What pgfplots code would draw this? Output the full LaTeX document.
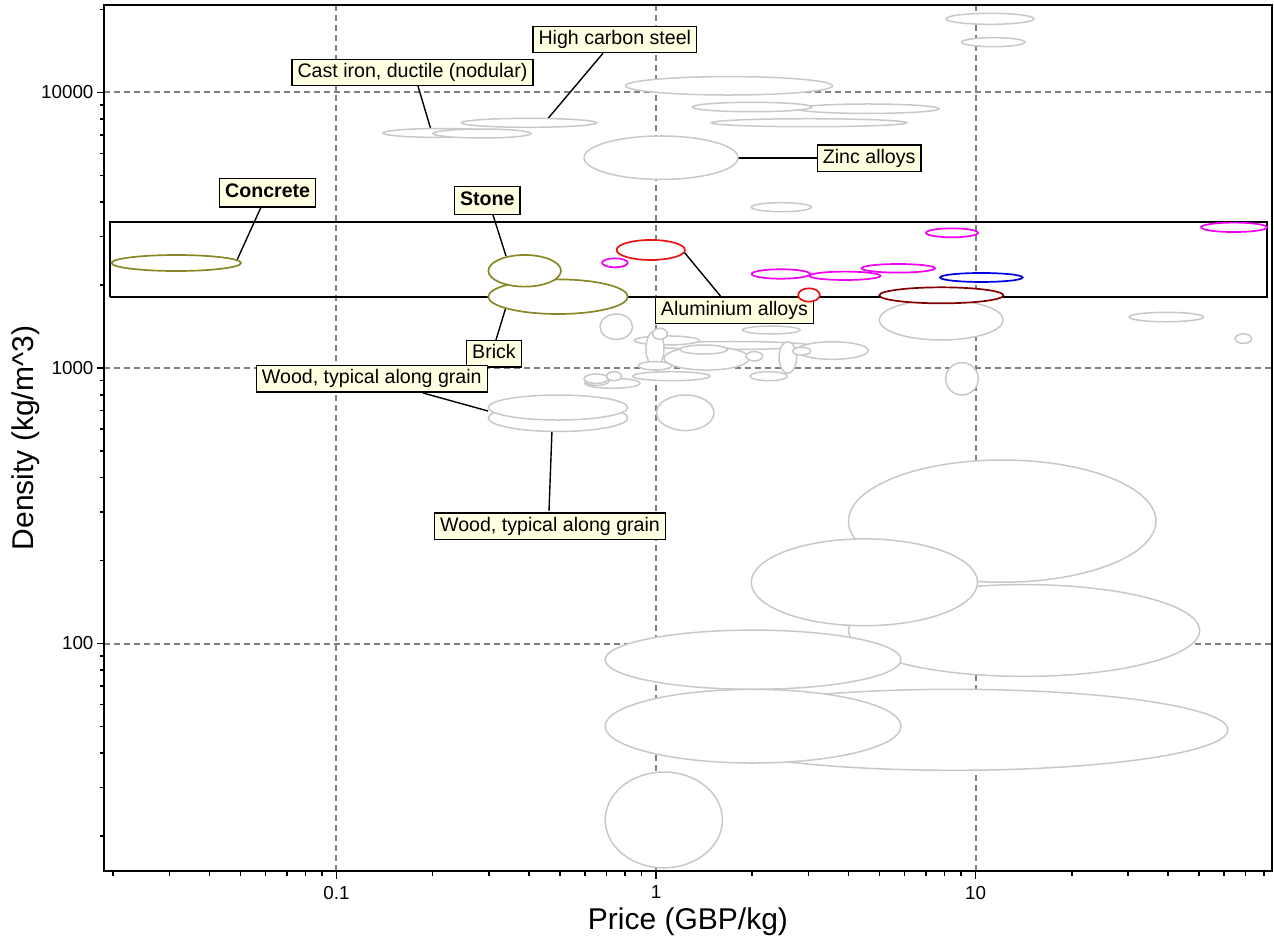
\documentclass[border=0pt]{standalone}
\usepackage{fontspec}
\setmainfont{Liberation Sans}
\usepackage{pgfplots}
\pgfplotsset{compat=1.18}

\definecolor{ellgray}{RGB}{200,200,200}
\definecolor{olivec}{RGB}{136,136,40}
\definecolor{magc}{RGB}{240,0,240}
\definecolor{redc}{RGB}{230,20,20}
\definecolor{bluec}{RGB}{0,0,220}
\definecolor{darkredc}{RGB}{130,0,0}
\definecolor{gridc}{RGB}{128,128,128}
\definecolor{tipfill}{RGB}{255,255,225}

\pgfdeclareplotmark{nothing}{}
\newcommand{\decx}{159.75pt}
\newcommand{\decy}{137.75pt}

\pgfplotsset{
  ellipses/.style 2 args={
    scatter, only marks, mark=nothing,
    visualization depends on={value \thisrow{rx}\as\ellrx},
    visualization depends on={value \thisrow{ry}\as\ellry},
    scatter/@pre marker code/.code={%
      {\pgfkeys{/pgf/fpu=false}%
      \draw[draw=#1, fill=white, line width=#2] (0pt,0pt) ellipse [x radius={\ellrx*\decx}, y radius={\ellry*\decy}];}%
    },
    scatter/@post marker code/.code={},
  },
}
\tikzset{
  lab/.style={draw=black, line width=0.7pt, fill=tipfill, inner xsep=2.8pt, inner ysep=1.9pt,
    text height=7.2pt, text depth=2.2pt, font=\fontsize{9.8}{11.5}\selectfont},
  blab/.style={lab, font=\fontsize{9.8}{11.5}\selectfont\bfseries, inner ysep=2.4pt},
  leader/.style={black, line width=0.7pt},
}

\begin{document}
\begin{tikzpicture}
\begin{axis}[
  scale only axis, width=583.5pt, height=433pt,
  xmode=log, ymode=log,
  xmin=0.01879, xmax=84.4, ymin=14.94, ymax=20780,
  axis line style={line width=1pt},
  tick style={black, line width=0.8pt},
  major tick length=4pt, minor tick length=2.5pt,
  tick align=outside, tick pos=left,
  grid=major,
  major grid style={gridc, dash pattern=on 3pt off 2pt, line width=1pt},
  xtick={0.1,1,10}, xticklabels={0.1,1,10},
  minor xtick={0.02,0.03,0.04,0.05,0.06,0.07,0.08,0.09,0.2,0.3,0.4,0.5,0.6,0.7,0.8,0.9,2,3,4,5,6,7,8,9,20,30,40,50,60,70,80},
  ytick={100,1000,10000}, yticklabels={100,1000,10000},
  minor ytick={20,30,40,50,60,70,80,90,200,300,400,500,600,700,800,900,2000,3000,4000,5000,6000,7000,8000,9000,20000},
  /pgf/number format/assume math mode=true,
  tick label style={font=\fontsize{9.4}{11}\selectfont},
  yticklabel style={xshift=2pt},
  xlabel={Price (GBP/kg)},
  ylabel={Density (kg/m\textasciicircum 3)},
  every axis x label/.style={at={(axis description cs:0.5,-0.0681)}, anchor=base, font=\fontsize{15}{18}\selectfont},
  every axis y label/.style={at={(axis description cs:-0.0677,0.5)}, rotate=90, anchor=center, font=\fontsize{15}{18}\selectfont},
  clip=false,
]
% unselected materials (grey)
\addplot[ellipses={ellgray}{0.75pt}] table {
x y rx ry
12.12 278.1 0.4811 0.2218
14.19 111.5 0.5496 0.1666
4.490 166.8 0.3540 0.1575
8.563 48.62 0.8576 0.1470
2.013 87.35 0.4629 0.1074
2.013 50.10 0.4629 0.1336
1.058 22.89 0.1834 0.1739
11.10 18510 0.1377 0.0200
11.37 15230 0.0992 0.0163
1.692 10575 0.3239 0.0334
3.012 7768 0.3052 0.0145
4.602 8733 0.2228 0.0171
1.998 8858 0.1869 0.0171
1.037 5799 0.2410 0.0788
2.467 3834 0.0939 0.0163
0.4004 7762 0.2113 0.0163
0.2131 7129 0.1831 0.0163
0.2853 7099 0.1534 0.0163
7.814 1494 0.1941 0.0726
39.54 1531 0.1164 0.0171
68.9 1278 0.0260 0.0171
9.073 913.7 0.0510 0.0588
1.235 687.9 0.0898 0.0646
0.4935 658.5 0.2182 0.0490
0.4935 718.9 0.2182 0.0454
1.704 1207 0.2504 0.0145
1.441 1084 0.1336 0.0425
3.568 1157 0.1121 0.0319
1.081 1259 0.1017 0.0163
2.296 1374 0.0898 0.0145
1.411 1167 0.0745 0.0163
0.9928 1175 0.0282 0.0653
2.585 1092 0.0275 0.0574
1.029 1331 0.0228 0.0200
2.031 1103 0.0260 0.0171
2.858 1151 0.0282 0.0142
0.9928 1019 0.0523 0.0152
1.117 933.8 0.1211 0.0163
2.253 933.8 0.0585 0.0163
0.7512 1412 0.0510 0.0461
0.7306 880.0 0.0861 0.0181
0.6538 897.4 0.0376 0.0163
0.6500 914.5 0.0382 0.0171
0.7396 933.8 0.0235 0.0163
};
% selected materials
\addplot[ellipses={olivec}{0.85pt}] table {
x y rx ry
0.03152 2405 0.2025 0.0290
0.4935 1815 0.2182 0.0628
0.3882 2253 0.1136 0.0574
};
\addplot[ellipses={magc}{0.85pt}] table {
x y rx ry
0.7439 2409 0.0401 0.0163
2.458 2194 0.0914 0.0171
3.904 2161 0.1111 0.0152
5.733 2301 0.1149 0.0156
8.440 3095 0.0814 0.0163
64.43 3241 0.1033 0.0171
};
\addplot[ellipses={redc}{0.85pt}] table {
x y rx ry
0.9632 2682 0.1070 0.0363
3.012 1841 0.0338 0.0243
};
\addplot[ellipses={bluec}{0.85pt}] table {
x y rx ry
10.43 2131 0.1293 0.0163
};
\addplot[ellipses={darkredc}{0.85pt}] table {
x y rx ry
7.816 1836 0.1941 0.0290
};
% selection box
\addplot[black, line width=1pt, mark=none] coordinates {
(0.01954,1810) (81.7,1810) (81.7,3388) (0.01954,3388) (0.01954,1810)
};
% leader lines
\draw[leader] (axis cs:0.1799,10557) -- (axis cs:0.1990,7129);
\draw[leader] (axis cs:0.6824,13880) -- (axis cs:0.4494,7814);
\draw[leader] (axis cs:1.809,5785) -- (axis cs:3.184,5785);
\draw[leader] (axis cs:0.05803,3831) -- (axis cs:0.04883,2466);
\draw[leader] (axis cs:0.3089,3593) -- (axis cs:0.3393,2550);
\draw[leader] (axis cs:1.224,2637) -- (axis cs:1.597,1815);
\draw[leader] (axis cs:0.3393,1665) -- (axis cs:0.3156,1264);
\draw[leader] (axis cs:0.1866,811.5) -- (axis cs:0.2980,698.2);
\draw[leader] (axis cs:0.4726,595.6) -- (axis cs:0.4625,302.7);
% labels
\node[lab] at (axis cs:0.1729,11818) {Cast iron, ductile (nodular)};
\node[lab] at (axis cs:0.7431,15575) {High carbon steel};
\node[lab] at (axis cs:4.648,5775) {Zinc alloys};
\node[blab] at (axis cs:0.06090,4325) {Concrete};
\node[blab] at (axis cs:0.2965,4055) {Stone};
\node[lab] at (axis cs:1.761,1620) {Aluminium alloys};
\node[lab] at (axis cs:0.3111,1127) {Brick};
\node[lab] at (axis cs:0.1290,912.3) {Wood, typical along grain};
\node[lab] at (axis cs:0.4659,267.0) {Wood, typical along grain};
\end{axis}
\pgfresetboundingbox
\path[use as bounding box] ([shift={(-52.25pt,-34pt)}]current axis.south west) rectangle ([shift={(1.25pt,2.5pt)}]current axis.north east);
\end{tikzpicture}
\end{document}
